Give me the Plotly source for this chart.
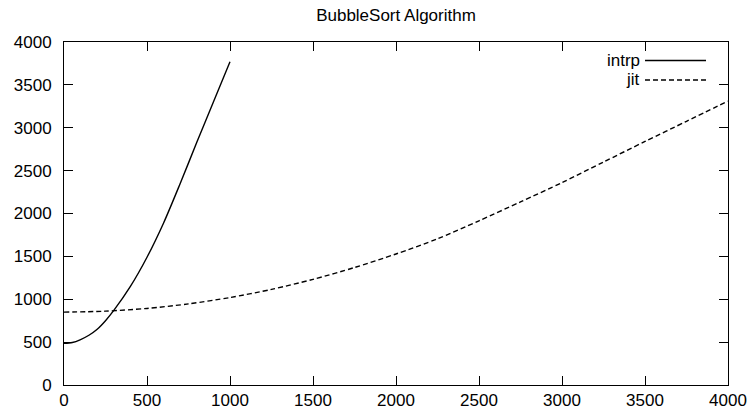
import plotly.graph_objects as go

title = "BubbleSort Algorithm"

intrp_x = [0, 50, 100, 150, 200, 250, 300, 400, 500, 600, 700, 800, 900, 1000]
intrp_y = [485, 495, 530, 580, 650, 750, 870, 1150, 1490, 1890, 2350, 2830, 3300, 3770]

jit_x = [0, 250, 500, 750, 1000, 1250, 1500, 1750, 2000, 2250, 2500,
         2750, 3000, 3250, 3500, 3750, 4000]
jit_y = [850, 861, 893, 946, 1020, 1115, 1232, 1370, 1528, 1705, 1915,
         2135, 2360, 2600, 2840, 3075, 3310]

series_names = ["intrp", "jit"]
tick_vals = [0, 500, 1000, 1500, 2000, 2500, 3000, 3500, 4000]

FONT = "Liberation Sans, Arial, Helvetica, sans-serif"
FS = 17

fig = go.Figure()
fig.add_trace(go.Scatter(x=intrp_x, y=intrp_y, mode="lines", name=series_names[0],
                         line=dict(color="black", width=1.4, shape="spline", smoothing=0.8),
                         showlegend=False))
fig.add_trace(go.Scatter(x=jit_x, y=jit_y, mode="lines", name=series_names[1],
                         line=dict(color="black", width=1.4, dash="5px,3px",
                                   shape="spline", smoothing=0.8),
                         showlegend=False))

axis_common = dict(
    range=[0, 4000], tickvals=tick_vals, ticktext=[str(v) for v in tick_vals],
    showgrid=False, zeroline=False, showline=True, linecolor="black", linewidth=1,
    mirror="allticks", ticks="inside", ticklen=9, tickwidth=1, tickcolor="black",
    tickfont=dict(family=FONT, size=FS, color="black"), automargin=False,
    ticklabeloverflow="allow",
)

fig.update_layout(
    width=747, height=417,
    margin=dict(l=64, r=19, t=42, b=32),
    paper_bgcolor="white", plot_bgcolor="white",
    title=dict(text=title, x=0.5, xref="paper", xanchor="center",
               y=1 - 15 / 417, yref="container", yanchor="middle",
               font=dict(family=FONT, size=FS, color="black")),
    xaxis=dict(**axis_common, ticklabelstandoff=0),
    yaxis=dict(**axis_common, ticklabelstandoff=8),
)

# gnuplot-style key (text right-aligned, sample line to the right)
legend_rows = [(series_names[0], 60.5, "solid"), (series_names[1], 80, "5px,3px")]
for name, ypix, dash in legend_rows:
    yp = 1 - (ypix - 42) / (385 - 42)
    fig.add_annotation(text=name, xref="paper", yref="paper",
                       x=(642 - 64) / (728 - 64), y=yp, xanchor="right", yanchor="middle",
                       showarrow=False, font=dict(family=FONT, size=FS, color="black"))
    fig.add_shape(type="line", xref="paper", yref="paper",
                  x0=(645 - 64) / (728 - 64), x1=(706 - 64) / (728 - 64), y0=yp, y1=yp,
                  line=dict(color="black", width=1.4, dash=dash))

fig.write_html("out.html")
